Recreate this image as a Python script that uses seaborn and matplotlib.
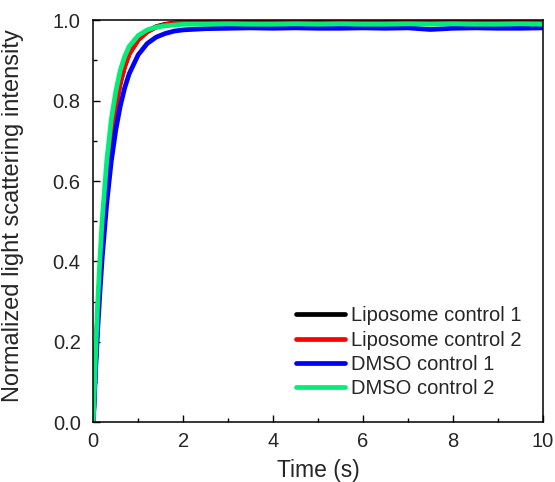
import numpy as np
import pandas as pd
import matplotlib
matplotlib.use("Agg")
import matplotlib.pyplot as plt
from matplotlib.ticker import MultipleLocator
import seaborn as sns

# time points (s) and normalized intensity for each trace
time = [0, 0.05, 0.1, 0.15, 0.2, 0.3, 0.4, 0.5, 0.6, 0.7, 0.8, 1.0, 1.2, 1.4,
        1.6, 1.8, 2.0, 2.5, 3.0, 3.5, 4.0, 4.5, 5.0, 5.5, 6.0, 6.5, 7.0, 7.5,
        8.0, 8.5, 9.0, 9.5, 10.0]

lipo1 = [0, 0.146, 0.268, 0.372, 0.462, 0.605, 0.710, 0.787, 0.844, 0.886,
         0.917, 0.952, 0.972, 0.984, 0.990, 0.993, 0.995, 0.996, 0.997, 0.996,
         0.997, 0.996, 0.997, 0.996, 0.997, 0.996, 0.997, 0.996, 0.997, 0.996,
         0.997, 0.996, 0.997]
lipo2 = [0, 0.145, 0.266, 0.370, 0.461, 0.604, 0.709, 0.786, 0.843, 0.885,
         0.916, 0.951, 0.971, 0.983, 0.989, 0.992, 0.996, 0.995, 0.995, 0.994,
         0.995, 0.995, 0.994, 0.995, 0.995, 0.994, 0.995, 0.995, 0.994, 0.995,
         0.995, 0.994, 0.995]
dmso1 = [0, 0.124, 0.232, 0.326, 0.410, 0.544, 0.648, 0.726, 0.786, 0.832,
         0.867, 0.914, 0.942, 0.958, 0.967, 0.973, 0.976, 0.979, 0.980, 0.981,
         0.980, 0.981, 0.980, 0.980, 0.981, 0.980, 0.981, 0.977, 0.980, 0.981,
         0.980, 0.980, 0.981]
dmso2 = [0, 0.160, 0.300, 0.410, 0.505, 0.650, 0.752, 0.822, 0.875, 0.910,
         0.935, 0.962, 0.976, 0.983, 0.986, 0.988, 0.990, 0.990, 0.991, 0.990,
         0.990, 0.991, 0.990, 0.991, 0.990, 0.990, 0.991, 0.990, 0.991, 0.990,
         0.990, 0.991, 0.990]

labels = ["Liposome control 1", "Liposome control 2", "DMSO control 1", "DMSO control 2"]
colors = ["#000000", "#ff0000", "#0000ff", "#00ee77"]

df = pd.concat([
    pd.DataFrame({"Time": time, "Intensity": vals, "Sample": lab})
    for vals, lab in zip([lipo1, lipo2, dmso1, dmso2], labels)
])

sns.set_style("ticks")
plt.rcParams["font.family"] = ["Liberation Sans", "DejaVu Sans"]

fig, ax = plt.subplots(figsize=(5.55, 4.82), dpi=100)
fig.subplots_adjust(left=0.168, right=0.978, top=0.958, bottom=0.124)

sns.lineplot(data=df, x="Time", y="Intensity", hue="Sample",
             palette=dict(zip(labels, colors)), linewidth=3.4, ax=ax,
             legend=True)

ax.set_xlim(0, 10)
ax.set_ylim(0, 1.0)
ax.xaxis.set_major_locator(MultipleLocator(2))
ax.xaxis.set_minor_locator(MultipleLocator(1))
ax.yaxis.set_major_locator(MultipleLocator(0.2))
ax.yaxis.set_minor_locator(MultipleLocator(0.1))
ax.tick_params(which="both", direction="in", top=False, right=False,
               labelsize=14.5, color="black")
ax.tick_params(which="major", length=5, width=1)
ax.tick_params(which="minor", length=3, width=1)
ax.tick_params(axis="x", pad=7)
ax.tick_params(axis="y", pad=9)
ax.set_yticklabels([f"{v:.1f}" for v in ax.get_yticks()])
for s in ax.spines.values():
    s.set_linewidth(1.1)
    s.set_color("black")

ax.set_xlabel("Time (s)", fontsize=16.5, labelpad=6)
ax.set_ylabel("Normalized light scattering intensity", fontsize=17)
ax.yaxis.set_label_coords(-0.155, 0.515)

leg = ax.legend(loc="lower right", frameon=False, fontsize=14.5,
                handlelength=2.4, handletextpad=0.3, labelspacing=0.26,
                borderaxespad=0.0, bbox_to_anchor=(0.97, 0.04))
for h in leg.get_lines():
    h.set_linewidth(3.4)

fig.savefig("out.png", dpi=100)
